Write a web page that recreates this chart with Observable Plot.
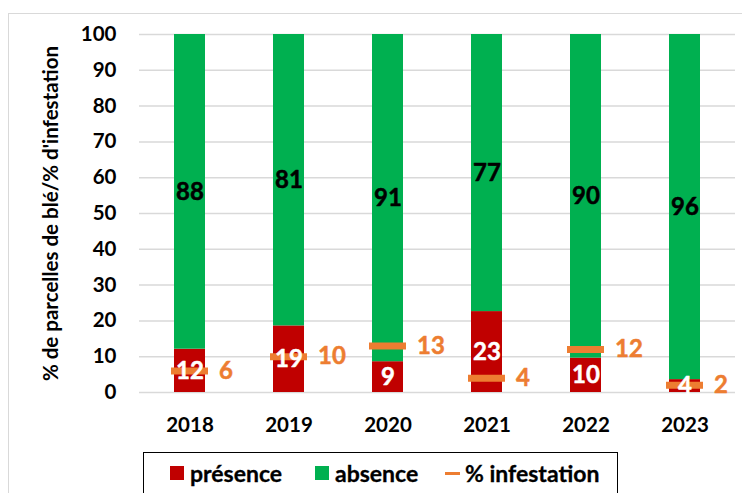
<!DOCTYPE html>
<html>
<head>
<meta charset="utf-8">
<script src="https://cdn.jsdelivr.net/npm/d3@7"></script>
<script src="https://cdn.jsdelivr.net/npm/@observablehq/plot@0.6"></script>
<style>
  html, body { margin: 0; padding: 0; background: #fff; }
  #wrap { position: relative; width: 742px; height: 493px; overflow: hidden; font-family: Lato, "Open Sans", sans-serif; font-weight: bold; }
  #border { position: absolute; left: 8px; top: 13px; width: 760px; height: 520px; border: 1px solid #d9d9d9; box-sizing: border-box; }
  #chart { position: absolute; left: 0; top: 0; }
  #legend { position: absolute; left: 143px; top: 452px; width: 475px; height: 42px; border: 1.5px solid #000; box-sizing: border-box; background: #fff; }
  .item { position: absolute; top: 6px; display: flex; align-items: center; font-size: 23px; color: #000; white-space: nowrap; -webkit-text-stroke: 0.3px #000; }
  .sw { width: 14px; height: 14px; display: inline-block; margin-right: 6px; }
  .ln { width: 15px; height: 3px; display: inline-block; margin-right: 5px; }
</style>
</head>
<body>
<div id="wrap">
  <div id="border"></div>
  <div id="chart"></div>
  <div id="legend"></div>
</div>
<script>
// Data
const years = ["2018", "2019", "2020", "2021", "2022", "2023"];
const presence = [12.1, 18.6, 8.6, 22.6, 9.6, 3.6];
const absence = [87.9, 81.4, 91.4, 77.4, 90.4, 96.4];
const infestation = [6, 10, 13, 4, 12, 2];
const seriesNames = ["présence", "absence"];
const legendLabels = ["présence", "absence", "% infestation"];
const yTicks = [0, 10, 20, 30, 40, 50, 60, 70, 80, 90, 100];
const yTitle = "% de parcelles de blé/% d'infestation";

const colors = { "présence": "#C00000", "absence": "#00B050", infestation: "#ED7D31" };

const stacked = [];
years.forEach((y, i) => {
  stacked.push({ year: y, series: seriesNames[0], value: presence[i] });
  stacked.push({ year: y, series: seriesNames[1], value: absence[i] });
});
const inf = years.map((y, i) => ({ year: y, value: infestation[i] }));

const font = "Lato, 'Open Sans', sans-serif";

const chart = Plot.plot({
  width: 742,
  height: 493,
  marginLeft: 139,
  marginRight: 7,
  marginTop: 34,
  marginBottom: 101,
  style: { fontFamily: font, fontWeight: "bold", background: "transparent", overflow: "visible" },
  x: { domain: years, paddingInner: 0.688, paddingOuter: 0.344, label: null },
  y: { domain: [0, 100], label: null },
  color: { domain: seriesNames, range: [colors["présence"], colors["absence"]] },
  marks: [
    Plot.gridY(yTicks, { stroke: "#d9d9d9", strokeOpacity: 1, strokeWidth: 1.5 }),
    Plot.axisY(yTicks, {
      tickSize: 0, tickPadding: 23, fontSize: 20.5, fill: "#000",
      label: yTitle, labelAnchor: "center", labelArrow: "none", labelOffset: 96
    }),
    Plot.axisX({ tickSize: 0, tickPadding: 25, fontSize: 20.5, fill: "#000", label: null }),
    Plot.barY(stacked, { x: "year", y: "value", z: "series", fill: "series", order: seriesNames }),
    Plot.tickY(inf, { x: "year", y: "value", stroke: colors.infestation, strokeWidth: 7, insetLeft: -3, insetRight: -3 }),
    Plot.text(stacked, Plot.stackY({
      x: "year", y: "value", z: "series", order: seriesNames,
      text: d => String(Math.round(d.value)),
      fill: d => d.series === "présence" ? "#fff" : "#000",
      stroke: d => d.series === "présence" ? "#fff" : "#000",
      strokeWidth: 0.5,
      fontSize: 24, fontWeight: "bold"
    })),
    Plot.text(inf, {
      x: "year", y: "value", text: d => String(d.value), dx: 29, textAnchor: "start",
      fill: colors.infestation, stroke: colors.infestation, strokeWidth: 0.5, fontSize: 24, fontWeight: "bold"
    })
  ]
});
document.getElementById("chart").appendChild(chart);

// Legend
const legend = document.getElementById("legend");
const legendPos = [26, 171, 301];
legendLabels.forEach((lab, i) => {
  const it = document.createElement("div");
  it.className = "item";
  it.style.left = legendPos[i] + "px";
  const sw = document.createElement("span");
  if (i < 2) { sw.className = "sw"; sw.style.background = colors[seriesNames[i]]; }
  else { sw.className = "ln"; sw.style.background = colors.infestation; }
  it.appendChild(sw);
  const t = document.createElement("span");
  t.textContent = lab;
  it.appendChild(t);
  legend.appendChild(it);
});
</script>
</body>
</html>
